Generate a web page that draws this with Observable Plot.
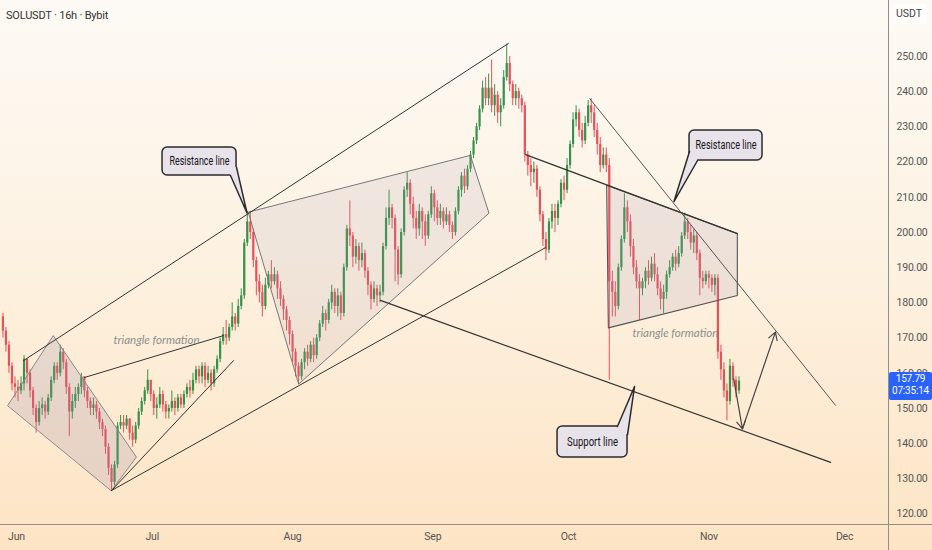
<!DOCTYPE html>
<html><head><meta charset="utf-8">
<script src="https://cdn.jsdelivr.net/npm/d3@7"></script>
<script src="https://cdn.jsdelivr.net/npm/@observablehq/plot@0.6"></script>
<style>
html,body{margin:0;padding:0;width:932px;height:550px;overflow:hidden;}
body{background:linear-gradient(180deg,#fdfaf5 0%,#fdf2e2 45%,#fde4c4 100%);font-family:"Roboto",sans-serif;}
#wrap{position:relative;width:932px;height:550px;}
#chart svg{display:block;}
#chart svg g[aria-label="y-axis tick label"] text,
#chart svg g[aria-label="x-axis tick label"] text{font-family:"Roboto",sans-serif;font-size:10.5px;fill:#555;letter-spacing:-0.2px;}
.ov{position:absolute;}
#title{left:6px;top:9px;font-size:11px;color:#333;letter-spacing:-0.2px;}
#unit{left:891px;top:4px;width:36px;height:20px;background:rgba(255,255,255,0.7);border-radius:3px;font-size:10.5px;color:#444;text-align:center;line-height:20px;}
#vline{left:888px;top:0;width:1px;height:550px;background:#8f8f8f;}
#hline{left:0;top:524px;width:932px;height:1px;background:#8f8f8f;}
#tag{left:889px;width:43px;height:27px;background:#2962ff;color:#fff;font-size:10px;line-height:12.5px;padding-top:1px;text-align:center;border-radius:2px;letter-spacing:-0.2px;}
</style></head>
<body><div id="wrap"><div id="chart"></div>
<div class="ov" id="title">SOLUSDT · 16h · Bybit</div>
<div class="ov" id="unit">USDT</div>
<div class="ov" id="vline"></div>
<div class="ov" id="hline"></div>
<div class="ov" id="tag">157.79<br>07:35:14</div>
</div>
<script>
// ---- candle data (16h bars, first bar 2025-05-29 00:00 UTC) ----
const firstBar = "2025-05-29T00:00Z";
const barHours = 16;
const firstOpen = 176;
const closes = [
172,168,162,157,156,155,157,164,160,155,
150,146,150,151,149,153,158,162,160,166,
163,156,149,152,154,156,159,155,152,150,
151,149,146,144,139,133,129,134,145,146,
145,147,143,141,145,149,152,155,158,154,
150,151,154,151,149,150,152,150,153,151,
154,156,155,158,161,159,162,158,160,157,
161,164,169,171,170,173,176,174,179,182,
197,203,200,192,186,183,179,185,188,186,
188,184,181,178,175,171,166,162,159,163,
166,164,168,165,170,174,177,175,180,183,
179,182,177,190,201,199,193,196,192,194,
189,185,181,184,182,183,196,204,207,204,
195,188,200,212,214,208,204,201,206,203,
199,205,211,207,204,206,203,205,202,200,
206,212,216,213,218,222,226,230,235,241,
238,241,236,239,234,236,244,248,242,238,
240,238,236,222,219,217,218,212,205,198,
195,203,206,204,208,214,212,219,225,232,
234,229,226,231,236,234,229,225,219,222,
219,186,183,179,190,198,207,203,196,190,
186,184,186,189,187,191,188,184,181,183,
188,190,193,191,194,199,203,200,197,199,
194,187,186,188,187,185,187,166,161,155,
152,162,158,155,157.79];
const highs = [
177,173,169,163,159,158,159,165,164,161,
156,151,152,153,152,154,159,163,163,168,
167,164,157,154,156,157,160,159,156,153,
153,152,150,147,145,140,134,135,146,148,
148,148,147,145,146,150,153,156,161,158,
155,153,156,155,152,151,155,153,154,154,
155,157,158,160,162,162,163,163,162,161,
162,165,170,173,175,174,180,177,181,184,
198,206,206,201,193,188,185,187,189,192,
190,189,186,182,179,176,172,167,163,164,
167,168,169,170,171,175,179,178,181,185,
184,184,183,191,202,209,200,198,197,197,
195,190,186,186,185,185,197,207,212,208,
205,196,201,213,217,215,210,206,208,207,
205,206,213,212,209,208,207,207,206,203,
207,213,217,218,219,223,227,231,236,243,
244,245,249,242,240,238,246,253.5,250,243,
242,241,239,237,223,221,220,219,213,206,
200,204,208,208,209,215,216,221,226,234,
236,235,231,233,237.5,238,236,231,227,224,
224,221,189,186,191,199,211,209,205,198,
192,188,187,190,192,193,194,190,186,185,
189,192,194,195,196,200,205.5,204,202,201,
200,195,189,189,189,188,188,188,168,163,
157,164,163,159,159];
const lows = [
170,166,160,155,153,152,154,155,157,153,
148,143,145,148,147,148,152,157,158,159,
161,154,142,147,150,152,154,153,150,148,
148,147,144,142,137,131,126.5,128,133,144,
143,144,141,139,140,144,148,151,154,152,
148,147,150,149,147,147,149,148,149,150,
150,153,153,154,157,157,157,156,157,155,
156,160,163,168,168,169,172,172,173,178,
181,196,198,190,182,180,176,178,184,184,
185,181,179,175,172,168,163,159,157,158,
161,162,163,163,164,169,173,172,174,178,
177,176,175,176,189,196,190,191,189,190,
187,182,178,180,179,180,182,195,202,201,
186,185,187,199,210,205,201,198,199,198,
196,198,204,203,202,202,201,202,200,198,
199,205,210,211,212,217,221,225,229,234,
236,236,234,233,231,230,235,243,240,236,
236,235,234,220,216,213,214,210,203,196,
192,194,201,200,202,207,209,211,218,224,
230,227,224,225,230,231,227,222,217,218,
217,158,176,176,178,189,197,200,193,188,
184,175,182,184,185,186,186,182,178,177,
181,187,189,189,190,193,198,198,195,194,
192,182,184,185,184,183,182,164,158,153,
146.5,151,156,153,154];
const lastPrice = 157.79;
const priceTicks = [120,130,140,150,160,170,180,190,200,210,220,230,240,250];
const monthTicks = ["2025-06-01","2025-07-01","2025-08-01","2025-09-01","2025-10-01","2025-11-01","2025-12-01"];

// ---- drawn annotations, in (date, price) ----
const channelUpper = [["2025-06-02T13:00Z",163.6],["2025-09-17T17:00Z",253.7]];
const channelLower = [["2025-06-22T00:00Z",126.7],["2025-09-25T21:30Z",195.7]];
const smallTriUpper = [["2025-06-16T00:00Z",158.8],["2025-07-16T17:00Z",170.7]];
const smallTriLower = [["2025-06-22T00:00Z",126.7],["2025-07-18T23:00Z",163.6]];
const supportLine = [["2025-08-20T10:00Z",180.7],["2025-11-27T22:00Z",134.7]];
const triResistance = [["2025-09-21T12:00Z",222.1],["2025-11-07T07:00Z",199.7]];
const steepResistance = [["2025-10-05T17:00Z",238.0],["2025-11-29T00:00Z",150.9]];
const flagShape = [["2025-05-30T02:00Z",150.9],["2025-06-09T03:00Z",170.7],["2025-06-27T12:00Z",136.2],["2025-06-22T00:00Z",126.7]];
const wedgeShape = [["2025-07-22T07:00Z",205.8],["2025-09-09T07:00Z",221.9],["2025-09-13T10:00Z",205.5],["2025-08-02T10:00Z",157.0]];
const triShape = [["2025-10-09T10:00Z",213.4],["2025-11-07T07:00Z",199.7],["2025-11-07T07:00Z",182.1],["2025-10-09T19:00Z",172.9]];
const projection = [
  {x1:"2025-11-06T12:00Z",y1:158.4,x2:"2025-11-08T10:00Z",y2:144.2},
  {x1:"2025-11-08T10:00Z",y1:144.2,x2:"2025-11-15T17:00Z",y2:171.7}];
const callouts = [
  {text:"Resistance line", width:60, x1:"2025-07-03T06:30Z", x2:"2025-07-19T15:00Z", y1:216.2, y2:224.15, tx:"2025-07-11T10:30Z", ty:220.2,
   tail:[["2025-07-18T07:00Z",216.2],["2025-07-21T22:30Z",205.54],["2025-07-19T15:00Z",218.5]], inner:["2025-07-17T10:00Z",219.3]},
  {text:"Resistance line", width:61, x1:"2025-10-27T17:30Z", x2:"2025-11-12T20:40Z", y1:220.45, y2:228.98, tx:"2025-11-04T19:00Z", ty:224.7,
   tail:[["2025-10-27T17:30Z",223.0],["2025-10-24T07:00Z",208.8],["2025-10-29T12:00Z",220.45]], inner:["2025-10-29T01:30Z",222.4]},
  {text:"Support line", width:51, x1:"2025-09-28T13:30Z", x2:"2025-10-14T00:45Z", y1:136.08, y2:144.89, tx:"2025-10-06T07:00Z", ty:140.5,
   tail:[["2025-10-11T19:00Z",144.89],["2025-10-15T14:00Z",156.25],["2025-10-14T00:45Z",142.61]], inner:["2025-10-12T11:30Z",143.18]}];
const patternLabels = [
  {text:"triangle formation", d:"2025-06-22T10:30Z", p:169.3},
  {text:"triangle formation", d:"2025-10-15T02:30Z", p:171.3}];

const GREEN = "#35924a", RED = "#e9505a";
const startMs = new Date(firstBar).getTime(), stepMs = barHours*3600*1000;
const candles = closes.map((c,i)=>({date:new Date(startMs+i*stepMs), open:i===0?firstOpen:closes[i-1], close:c, high:highs[i], low:lows[i]}));
const col = d => d.close >= d.open ? GREEN : RED;
const px = d => new Date(d[0]), py = d => d[1];

const tailFills = callouts.map((c,k)=>[...c.tail, c.inner].map(p=>({k, d:p[0], p:p[1]}))).flat();
const tailStrokes = callouts.map((c,k)=>c.tail.map(p=>({k, d:p[0], p:p[1]}))).flat();

const chart = Plot.plot({
  width: 932, height: 550,
  marginLeft: 0, marginRight: 44, marginTop: 0, marginBottom: 26,
  style: {background: "transparent", overflow: "visible"},
  x: {type: "utc", domain: [new Date("2025-05-28T11:08Z"), new Date("2025-12-10T16:50Z")]},
  y: {domain: [117.05, 265.9]},
  marks: [
    Plot.axisY({anchor:"right", ticks: priceTicks, tickFormat: d=>d.toFixed(2), tickSize:0, tickPadding:8, label:null}),
    Plot.axisX({ticks: monthTicks.map(d=>new Date(d+"T00:00Z")), tickFormat: d3.utcFormat("%b"), tickSize:0, tickPadding:8, label:null}),
    Plot.ruleX(candles, {x:"date", y1:"low", y2:"high", stroke: col, strokeWidth:1}),
    Plot.ruleX(candles, {x:"date", y1:"open", y2:"close", stroke: col, strokeWidth:2.2}),
    Plot.line(flagShape, {x:px, y:py, curve:"linear-closed", fill:"#9a8aa8", fillOpacity:0.22, stroke:"#888", strokeWidth:1}),
    Plot.line(wedgeShape, {x:px, y:py, curve:"linear-closed", fill:"#a898b4", fillOpacity:0.15, stroke:"#777", strokeWidth:1}),
    Plot.line(triShape, {x:px, y:py, curve:"linear-closed", fill:"#a898b4", fillOpacity:0.18, stroke:"#555", strokeWidth:1.1}),
    Plot.line(channelUpper, {x:px, y:py, stroke:"#333", strokeWidth:1}),
    Plot.line(channelLower, {x:px, y:py, stroke:"#333", strokeWidth:1}),
    Plot.line(smallTriUpper, {x:px, y:py, stroke:"#333", strokeWidth:1}),
    Plot.line(smallTriLower, {x:px, y:py, stroke:"#333", strokeWidth:1}),
    Plot.line(supportLine, {x:px, y:py, stroke:"#333", strokeWidth:1.2}),
    Plot.line(triResistance, {x:px, y:py, stroke:"#333", strokeWidth:1.3}),
    Plot.line(steepResistance, {x:px, y:py, stroke:"#555", strokeWidth:1}),
    Plot.arrow(projection, {x1:d=>new Date(d.x1), y1:"y1", x2:d=>new Date(d.x2), y2:"y2", stroke:"#444", strokeWidth:1.2, headLength:11, inset:0}),
    Plot.text(patternLabels, {x:d=>new Date(d.d), y:"p", text:"text", textAnchor:"start", fontStyle:"italic", fontSize:11.5, fill:"#8e8e8e", fontFamily:"Lato, sans-serif"}),
    Plot.rect(callouts, {x1:d=>new Date(d.x1), x2:d=>new Date(d.x2), y1:"y1", y2:"y2", rx:5, fill:"#e8e2ea", stroke:"#2b2b2b", strokeWidth:1.5}),
    Plot.line(tailFills, {x:d=>new Date(d.d), y:"p", z:"k", curve:"linear-closed", fill:"#e8e2ea", stroke:"none"}),
    Plot.line(tailStrokes, {x:d=>new Date(d.d), y:"p", z:"k", stroke:"#2b2b2b", strokeWidth:1.5}),
    Plot.text(callouts, {x:d=>new Date(d.tx), y:"ty", text:"text", fontSize:12, fill:"#151515", fontFamily:"Roboto, sans-serif"})
  ]
});
document.getElementById("chart").appendChild(chart);
// squeeze callout labels to the narrow width seen in the reference
const textGroups = chart.querySelectorAll('g[aria-label="text"]');
const calloutGroup = textGroups[textGroups.length - 1];
calloutGroup.querySelectorAll("text").forEach((t, i) => {
  t.setAttribute("textLength", callouts[i].width);
  t.setAttribute("lengthAdjust", "spacingAndGlyphs");
});
const ty = chart.scale("y").apply(lastPrice);
document.getElementById("tag").style.top = (ty - 9) + "px";
</script>
</body></html>
